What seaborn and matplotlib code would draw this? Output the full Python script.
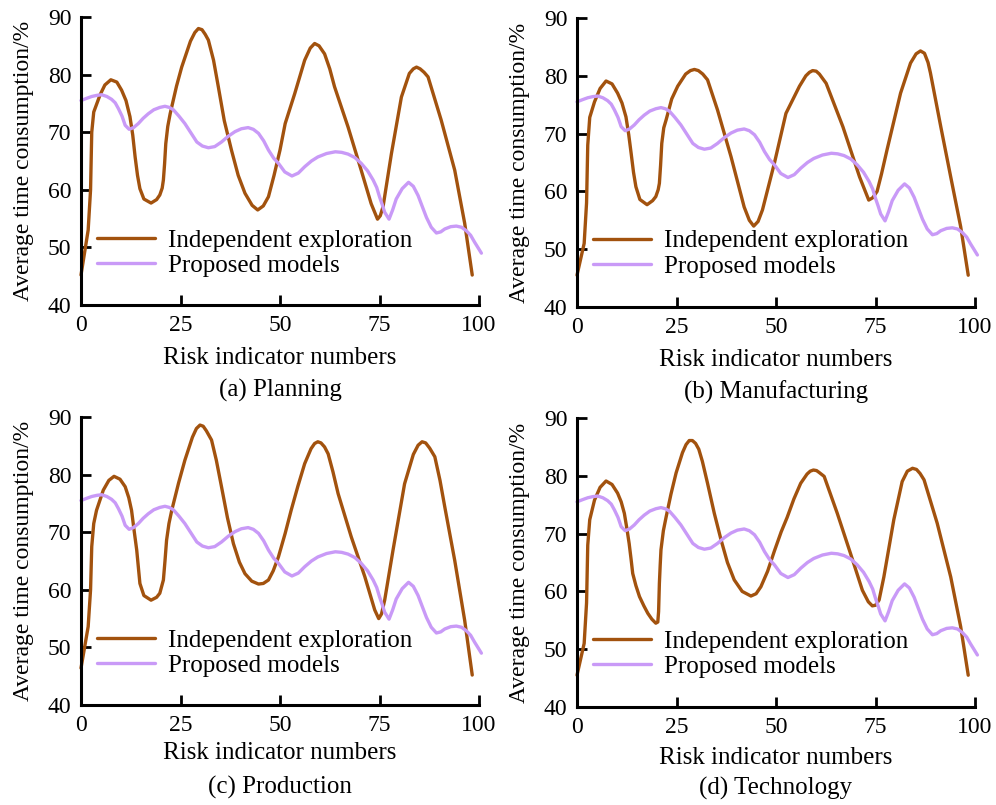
import matplotlib
matplotlib.use("Agg")
import matplotlib.pyplot as plt
import seaborn as sns
import pandas as pd

# ---------------- data ----------------
# Proposed models (identical in the four panels)
prop_x = [0, 1.5, 2.7, 4.0, 5.2, 6.5, 7.7, 8.6, 9.4, 10.3, 11.1, 12.1, 13.2, 14.4, 15.6, 16.9,
          18.3, 19.8, 21.1, 22.2, 23.2, 24.6, 26.1, 27.6, 29.1, 30.5, 32.0, 33.6, 35.3, 37.0,
          38.7, 40.3, 42.0, 43.3, 44.6, 45.9, 47.1, 48.4, 49.6, 51.2, 53.0, 54.6, 56.2, 57.9,
          59.5, 61.7, 63.9, 65.5, 67.1, 68.8, 70.4, 72.0, 73.4, 74.3, 75.0, 75.7, 76.3, 77.4,
          78.3, 79.2, 80.7, 82.3, 83.5, 84.7, 85.8, 86.8, 88.0, 89.3, 90.4, 91.4, 92.9, 94.3,
          95.6, 96.8, 97.9, 98.9, 99.8, 100.6]
prop_y = [75.5, 75.9, 76.2, 76.4, 76.5, 76.2, 75.7, 75.1, 74.1, 72.8, 71.2, 70.5, 70.8, 71.5, 72.4, 73.2,
          73.9, 74.3, 74.5, 74.3, 73.9, 72.8, 71.5, 69.9, 68.3, 67.6, 67.3, 67.5, 68.3, 69.3,
          70.1, 70.6, 70.8, 70.5, 69.8, 68.5, 66.9, 65.5, 64.6, 63.1, 62.4, 62.9, 64.0, 65.0,
          65.7, 66.3, 66.6, 66.5, 66.2, 65.6, 64.6, 63.3, 61.7, 60.4, 58.8, 57.4, 56.1, 54.9,
          56.5, 58.4, 60.2, 61.3, 60.6, 59.0, 57.0, 55.2, 53.5, 52.5, 52.7, 53.2, 53.6, 53.7,
          53.5, 52.9, 52.1, 50.9, 49.9, 49.0]

# Independent exploration, one series per panel
plan_x = [0, 1.8, 2.4, 2.7, 3.2, 4.8, 6.0, 7.5, 9.0, 10.2, 11.3, 12.3, 13.0, 13.6, 14.2, 14.8, 15.8,
          17.6, 19.0, 19.8, 20.4, 20.7, 21.0, 21.3, 21.8, 22.4, 24.0, 25.3, 27.5, 28.6, 29.5, 30.4,
          31.2, 32.0, 33.3, 34.5, 36.0, 37.8, 39.5, 41.2, 43.0, 44.4, 45.8, 47.1, 48.5, 50.0, 51.3,
          53.7, 56.2, 57.6, 58.7, 59.8, 61.2, 62.5, 63.7, 67.1, 70.4, 72.9, 74.5, 75.2, 75.9, 78.0,
          80.5, 82.5, 83.5, 84.3, 85.2, 86.2, 87.2, 90.5, 93.9, 96.4, 98.3]
plan_y = [45.2, 53.0, 60.0, 70.0, 73.5, 76.5, 78.2, 79.1, 78.7, 77.3, 75.5, 72.7, 69.5, 65.7, 62.5, 60.2, 58.4,
          57.7, 58.3, 59.1, 60.3, 61.7, 64.5, 68.0, 71.0, 73.2, 78.0, 81.3, 85.8, 87.3, 88.0, 87.8,
          87.0, 86.0, 82.5, 77.9, 72.0, 66.9, 62.5, 59.4, 57.3, 56.5, 57.2, 58.8, 62.5, 66.9, 71.5,
          76.7, 82.5, 84.6, 85.4, 85.0, 83.6, 81.0, 77.9, 70.9, 63.4, 57.6, 54.9, 55.5, 57.1, 66.3,
          76.1, 80.2, 81.0, 81.3, 81.0, 80.4, 79.6, 72.1, 63.4, 54.2, 45.2]

manu_x = [0, 1.8, 2.4, 2.7, 3.2, 4.4, 5.8, 7.3, 8.8, 10.2, 11.3, 12.3, 13.0, 13.6, 14.2, 14.8, 15.8,
          17.6, 19.0, 19.8, 20.4, 20.7, 21.0, 21.3, 21.8, 22.4, 23.8, 25.3, 27.3, 28.5, 29.5, 30.5,
          31.6, 32.8, 35.3, 38.7, 42.0, 43.3, 44.4, 45.5, 46.6, 49.6, 52.5, 55.9, 57.5, 58.4, 59.2,
          60.1, 60.9, 62.6, 66.8, 71.0, 73.3, 74.3, 75.4, 76.5, 77.9, 81.3, 83.8, 85.2, 86.3, 87.3,
          88.2, 88.8, 91.4, 93.9, 96.4, 98.3]
manu_y = [45.5, 51.0, 58.0, 68.0, 72.8, 75.5, 77.8, 79.1, 78.6, 77.0, 75.3, 72.9, 69.8, 66.6, 63.3, 60.8, 58.6,
          57.7, 58.4, 59.1, 60.3, 61.4, 64.5, 68.3, 71.0, 72.4, 76.0, 78.2, 80.3, 80.9, 81.1, 80.9,
          80.3, 79.3, 74.1, 66.0, 57.3, 55.0, 54.0, 54.8, 56.8, 64.9, 73.5, 78.2, 80.0, 80.6, 80.9,
          80.8, 80.3, 78.7, 71.2, 62.5, 58.5, 58.9, 60.0, 63.0, 67.2, 77.0, 82.2, 83.8, 84.3, 83.9,
          82.3, 80.5, 71.2, 62.5, 53.9, 45.5]

prod_x = [0, 1.8, 2.4, 2.7, 3.2, 3.9, 5.6, 7.0, 8.3, 9.8, 11.1, 12.0, 12.7, 13.4, 14.0, 14.8, 15.8,
          17.6, 19.0, 19.8, 20.7, 21.1, 21.5, 22.1, 22.8, 24.5, 26.1, 28.0, 29.0, 29.9, 30.7, 31.5,
          32.8, 34.0, 35.3, 36.8, 38.3, 39.8, 41.2, 42.9, 44.6, 45.8, 47.1, 48.3, 49.6, 51.3, 52.8,
          54.5, 56.2, 57.8, 58.7, 59.5, 60.3, 61.2, 62.1, 63.3, 64.6, 67.9, 71.3, 73.8, 74.8, 75.5,
          76.3, 78.4, 81.3, 83.5, 84.7, 85.7, 86.6, 87.6, 88.9, 90.2, 91.4, 93.9, 96.4, 98.3]
prod_y = [46.4, 53.6, 60.0, 67.5, 71.5, 73.8, 77.3, 79.0, 79.7, 79.2, 77.9, 76.0, 73.8, 70.0, 66.9, 61.1, 59.0,
          58.2, 58.7, 59.4, 61.7, 65.0, 68.6, 71.5, 73.8, 78.5, 82.5, 86.5, 88.0, 88.6, 88.4, 87.6,
          86.0, 82.5, 77.9, 72.5, 68.0, 64.8, 62.8, 61.5, 61.0, 61.1, 61.7, 63.3, 65.7, 69.8, 73.8,
          78.0, 81.9, 84.5, 85.4, 85.7, 85.5, 84.8, 83.6, 80.5, 76.7, 69.2, 62.3, 56.5, 55.0, 55.8,
          58.2, 66.9, 78.4, 83.5, 85.1, 85.7, 85.5, 84.6, 83.1, 79.0, 74.4, 65.1, 54.7, 45.2]

tech_x = [0, 1.8, 2.4, 2.7, 3.2, 4.4, 5.8, 7.3, 8.8, 10.2, 11.1, 11.9, 12.5, 13.1, 13.6, 14.0, 14.8,
          15.7, 16.8, 17.8, 18.8, 19.8, 20.3, 20.5, 20.7, 20.9, 21.1, 21.7, 22.4, 23.6, 24.9, 26.5,
          27.4, 28.2, 29.0, 29.8, 30.6, 31.5, 32.8, 34.5, 36.2, 37.8, 39.5, 41.5, 43.7, 45.0, 46.2,
          47.9, 49.6, 51.3, 52.8, 54.5, 56.2, 57.8, 58.6, 59.4, 60.2, 60.8, 62.1, 65.4, 68.7, 71.7,
          73.2, 74.2, 75.0, 75.9, 77.1, 79.6, 81.7, 83.0, 84.3, 85.3, 86.2, 87.2, 90.5, 93.9, 96.4,
          98.3]
tech_y = [45.5, 51.0, 58.0, 68.0, 72.4, 75.8, 78.0, 79.1, 78.5, 77.0, 75.5, 73.5, 71.0, 68.3, 65.5, 63.1, 61.0,
          59.1, 57.5, 56.2, 55.2, 54.5, 54.7, 56.5, 61.4, 64.5, 67.2, 70.5, 72.9, 76.8, 80.5, 84.0,
          85.4, 86.1, 86.1, 85.6, 84.6, 82.5, 78.7, 73.5, 68.9, 65.0, 62.0, 60.0, 59.2, 59.6, 60.8,
          63.5, 67.0, 70.3, 72.8, 76.0, 78.7, 80.3, 80.8, 81.0, 80.9, 80.6, 79.9, 73.5, 66.6, 60.2,
          58.2, 57.5, 57.6, 58.5, 62.5, 72.4, 79.0, 80.8, 81.3, 81.1, 80.4, 79.3, 71.8, 62.5, 53.9,
          45.5]

captions = ["(a) Planning", "(b) Manufacturing", "(c) Production", "(d) Technology"]
series_names = ["Independent exploration", "Proposed models"]
x_ticks = [0, 25, 50, 75, 100]
y_ticks = [40, 50, 60, 70, 80, 90]

panels = [(plan_x, plan_y), (manu_x, manu_y), (prod_x, prod_y), (tech_x, tech_y)]

# ---------------- style ----------------
sns.set_theme(style="ticks")
plt.rcParams["font.family"] = ["Liberation Serif", "DejaVu Serif"]
plt.rcParams["axes.linewidth"] = 2.2
plt.rcParams["text.color"] = "black"
plt.rcParams["axes.labelcolor"] = "black"

W, H = 996, 805
fig = plt.figure(figsize=(W / 100, H / 100), dpi=100)

# axes boxes in pixels: (left, top, right, bottom)
boxes = [(81, 17, 479, 305), (577, 18, 975, 307), (81, 417, 479, 705), (577, 418, 975, 707)]
xlabel_off = [53, 53, 48, 51]
caption_off = [85, 85, 82, 81]

BROWN = "#A2520E"
PURPLE = "#C99AF7"

for i, ((bx, by), (l, t, r, b)) in enumerate(zip(panels, boxes)):
    ax = fig.add_axes([l / W, 1 - b / H, (r - l) / W, (b - t) / H])
    df_b = pd.DataFrame({"x": bx, "y": by})
    df_p = pd.DataFrame({"x": prop_x, "y": prop_y})
    sns.lineplot(data=df_b, x="x", y="y", ax=ax, color=BROWN, lw=2.4,
                 label=series_names[0], estimator=None, sort=False, clip_on=False,
                 solid_joinstyle="round")
    sns.lineplot(data=df_p, x="x", y="y", ax=ax, color=PURPLE, lw=2.4,
                 label=series_names[1], estimator=None, sort=False, clip_on=False,
                 solid_joinstyle="round")
    ax.set_xlim(0, 100)
    ax.set_ylim(40, 90)
    ax.set_xticks(x_ticks)
    ax.set_yticks(y_ticks)
    ax.tick_params(direction="in", length=7, width=2, labelsize=17, colors="black", pad=7)
    for s in ("top", "right"):
        ax.spines[s].set_visible(False)
    for s in ("left", "bottom"):
        ax.spines[s].set_color("black")
    ax.set_xlabel("Risk indicator numbers", fontsize=18, va="center")
    ax.xaxis.set_label_coords(0.5, -xlabel_off[i] / (b - t))
    ax.set_ylabel("Average time consumption/%", fontsize=17, va="center")
    ax.yaxis.set_label_coords(-58 / (r - l), 0.5)
    leg = ax.legend(loc="center left", bbox_to_anchor=(16 / (r - l), 1 - 236 / (b - t)),
                    frameon=False, fontsize=18, handlelength=2.3, handletextpad=0.55,
                    labelspacing=0.12, borderpad=0, borderaxespad=0)
    fig.text((l + r) / 2 / W, 1 - (b + caption_off[i]) / H, captions[i],
             ha="center", va="center", fontsize=18)

fig.savefig("out.png", dpi=100)
